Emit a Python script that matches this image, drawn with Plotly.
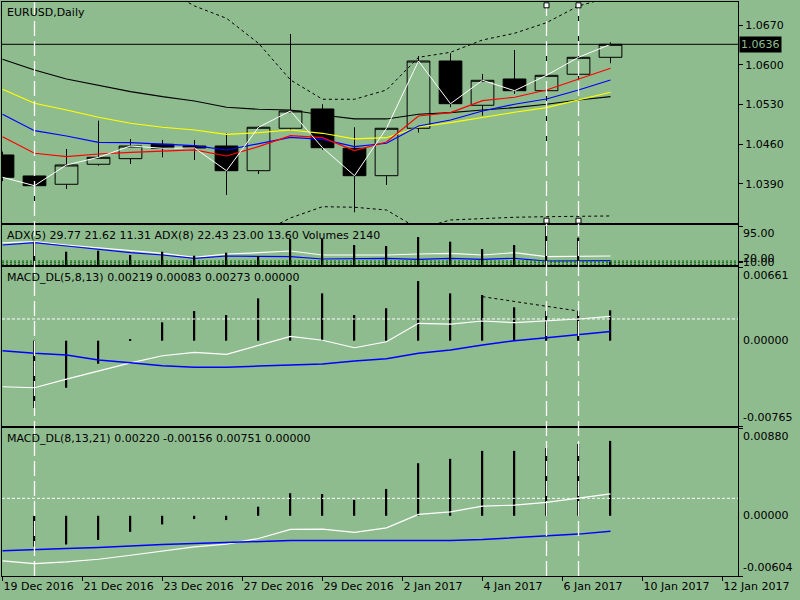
import plotly.graph_objects as go

BG = '#8FBC8F'
FONT = 'DejaVu Sans'

# bar index 0..19 (daily bars shown in the window)
bars = list(range(20))

opens = [1.04411, 1.04041, 1.03895, 1.04247, 1.04346, 1.04599, 1.04569, 1.04569, 1.04134, 1.04881,
         1.05221, 1.04529, 1.04046, 1.04881, 1.06066, 1.05286, 1.05749, 1.05543, 1.05832, 1.06131]
highs = [1.04470, 1.04177, 1.04516, 1.05015, 1.04693, 1.04675, 1.04675, 1.04793, 1.04920, 1.06542,
         1.05304, 1.04899, 1.04900, 1.06154, 1.06202, 1.05837, 1.06260, 1.06230, 1.07052, 1.06395]
lows = [1.03950, 1.03530, 1.03812, 1.04222, 1.04252, 1.04370, 1.04323, 1.03707, 1.04076, 1.04839,
        1.04499, 1.03402, 1.03883, 1.04804, 1.05251, 1.05103, 1.05485, 1.04529, 1.05744, 1.06026]
closes = [1.04018, 1.03870, 1.04235, 1.04370, 1.04569, 1.04529, 1.04534, 1.04134, 1.04899, 1.05186,
          1.04539, 1.04046, 1.04881, 1.06066, 1.05314, 1.05726, 1.05543, 1.05814, 1.06131, 1.06360]

ma_black = [1.06096, 1.05908, 1.05749, 1.05631, 1.05525, 1.05437, 1.05362, 1.05251, 1.05216, 1.05203,
            1.05115, 1.05045, 1.05045, 1.05128, 1.05156, 1.05203, 1.05244, 1.05304, 1.05379, 1.05437]
ma_yellow = [1.05568, 1.05321, 1.05203, 1.05075, 1.04969, 1.04899, 1.04851, 1.04775, 1.04803, 1.04851,
             1.04793, 1.04693, 1.04715, 1.04904, 1.04980, 1.05075, 1.05163, 1.05244, 1.05379, 1.05515]
ma_blue = [1.05128, 1.04839, 1.04745, 1.04634, 1.04627, 1.04599, 1.04575, 1.04499, 1.04605, 1.04722,
           1.04687, 1.04557, 1.04617, 1.04921, 1.05027, 1.05186, 1.05304, 1.05397, 1.05555, 1.05732]
ma_red = [1.04733, 1.04441, 1.04381, 1.04428, 1.04458, 1.04481, 1.04499, 1.04393, 1.04557, 1.04751,
          1.04715, 1.04487, 1.04640, 1.05098, 1.05156, 1.05367, 1.05427, 1.05555, 1.05749, 1.05938]
band_up = [None, None, None, None, None, 1.07352, 1.07035, 1.06818, 1.06378, 1.05732,
           1.05392, 1.05392, 1.05555, 1.06131, 1.06219, 1.06436, 1.06554, 1.06741, 1.07035, 1.07193]
band_dn = [None, None, None, None, None, None, None, None, 1.03020, 1.03302,
           1.03500, 1.03490, 1.03442, 1.03108, 1.03266, 1.03296, 1.03314, 1.03324, 1.03324, 1.03337]
price_ticks = [1.0670, 1.0600, 1.0530, 1.0460, 1.0390]

adx5 = [55.0, 57.7, 49.5, 42.9, 37.1, 28.9, 19.0, 27.2, 30.5, 34.7,
        24.8, 24.8, 24.8, 27.2, 28.9, 24.8, 30.5, 20.6, 20.6, 22.3]
adx8 = [49.5, 55.2, 47.0, 38.9, 30.5, 24.8, 16.6, 22.3, 20.6, 20.6,
        14.9, 16.6, 16.6, 14.1, 16.6, 14.1, 16.6, 9.9, 10.6, 10.6]
adx_levels = [9.9, 5.7, 1.7]
volumes = [None, 15060, 8590, 9240, 6470, 8590, 6000, 7930, 5820, 16810,
           16810, 12920, 12270, 18090, 15060, 10340, 12920, 25190, 17640, 2140]

macd1_main = [-0.00413, -0.00422, -0.00345, -0.00272, -0.00198, -0.00135, -0.00104, -0.00122, -0.00039, 0.00039,
              0.00004, -0.00063, -0.00009, 0.00156, 0.00148, 0.00177, 0.00162, 0.00177, 0.00195, 0.00219]
macd1_signal = [-0.00090, -0.00113, -0.00128, -0.00173, -0.00197, -0.00224, -0.00239, -0.00239, -0.00227, -0.00218,
                -0.00209, -0.00182, -0.00161, -0.00113, -0.00084, -0.00039, 0.00000, 0.00027, 0.00055, 0.00083]
macd1_hist = [None, -0.00604, -0.00422, -0.00206, 0.00015, 0.00165, 0.00266, 0.00230, 0.00380, 0.00500,
              0.00425, 0.00230, 0.00291, 0.00535, 0.00425, 0.00410, 0.00300, 0.00266, 0.00266, 0.00273]
macd1_level = 0.00195
div_bars = [15, 18]
div_vals = [0.00395, 0.00266]

macd2_main = [-0.00453, -0.00479, -0.00463, -0.00436, -0.00396, -0.00356, -0.00312, -0.00285, -0.00228, -0.00137,
              -0.00134, -0.00167, -0.00121, 0.00014, 0.00040, 0.00097, 0.00107, 0.00135, 0.00175, 0.00220]
macd2_signal = [-0.00352, -0.00338, -0.00328, -0.00318, -0.00302, -0.00288, -0.00278, -0.00268, -0.00258, -0.00248,
                -0.00248, -0.00248, -0.00248, -0.00248, -0.00248, -0.00238, -0.00221, -0.00204, -0.00184, -0.00156]
macd2_hist = [None, -0.00310, -0.00288, -0.00242, -0.00161, -0.00087, -0.00033, -0.00043, 0.00091, 0.00226,
              0.00218, 0.00158, 0.00269, 0.00527, 0.00571, 0.00651, 0.00651, 0.00678, 0.00719, 0.00751]
macd2_level = 0.00175

date_pos = [0, 2.5, 5, 7.5, 10, 12.5, 15, 17.5, 20, 22.5]
date_text = ['19 Dec 2016', '21 Dec 2016', '23 Dec 2016', '27 Dec 2016', '29 Dec 2016',
             '2 Jan 2017', '4 Jan 2017', '6 Jan 2017', '10 Jan 2017', '12 Jan 2017']
vline_bars = [1, 17, 18]

fig = go.Figure()

# main pane
fig.add_trace(go.Candlestick(
    x=bars, open=opens, high=highs, low=lows, close=closes,
    increasing=dict(line=dict(color='black', width=1), fillcolor=BG),
    decreasing=dict(line=dict(color='black', width=1), fillcolor='black'),
    whiskerwidth=0, xaxis='x', yaxis='y'))
for vals, col in [(ma_black, 'black'), (ma_yellow, '#FFFF00'), (ma_blue, '#0000FF'), (ma_red, '#FF0000')]:
    fig.add_trace(go.Scatter(x=bars, y=vals, mode='lines', line=dict(color=col, width=1.2),
                             xaxis='x', yaxis='y'))
for vals in [band_up, band_dn]:
    fig.add_trace(go.Scatter(x=bars, y=vals, mode='lines', line=dict(color='black', width=1, dash='3px,3px'),
                             xaxis='x', yaxis='y'))
fig.add_trace(go.Scatter(x=bars, y=closes, mode='lines', line=dict(color='white', width=1),
                         xaxis='x', yaxis='y'))

# ADX + volumes pane
fig.add_trace(go.Bar(x=bars, y=volumes, width=0.045, marker=dict(color='black', line=dict(width=0)),
                     xaxis='x2', yaxis='y5'))
fig.add_trace(go.Scatter(x=bars, y=adx5, mode='lines', line=dict(color='white', width=1.2),
                         xaxis='x2', yaxis='y2'))
fig.add_trace(go.Scatter(x=bars, y=adx8, mode='lines', line=dict(color='#0000FF', width=1.2),
                         xaxis='x2', yaxis='y2'))

# MACD panes
for hist, main, sig, xa, ya in [(macd1_hist, macd1_main, macd1_signal, 'x3', 'y3'),
                                (macd2_hist, macd2_main, macd2_signal, 'x4', 'y4')]:
    fig.add_trace(go.Bar(x=bars, y=hist, width=0.045, marker=dict(color='black', line=dict(width=0)),
                         xaxis=xa, yaxis=ya))
    fig.add_trace(go.Scatter(x=bars, y=main, mode='lines', line=dict(color='white', width=1.2),
                             xaxis=xa, yaxis=ya))
    fig.add_trace(go.Scatter(x=bars, y=sig, mode='lines', line=dict(color='#0000FF', width=1.5),
                             xaxis=xa, yaxis=ya))
fig.add_trace(go.Scatter(x=div_bars, y=div_vals, mode='lines', line=dict(color='black', width=1, dash='3px,3px'),
                         xaxis='x3', yaxis='y3'))

shapes = []
# last price line
shapes.append(dict(type='line', xref='x domain', x0=0, x1=1, yref='y', y0=closes[-1], y1=closes[-1],
                   line=dict(color='black', width=1)))
for lv in adx_levels:
    shapes.append(dict(type='line', xref='x2 domain', x0=0, x1=1, yref='y2', y0=lv, y1=lv,
                       line=dict(color='#006400', width=1, dash='2px,2px')))
for lv, ya in [(macd1_level, 'y3'), (macd2_level, 'y4')]:
    shapes.append(dict(type='line', xref='x domain', x0=0, x1=1, yref=ya, y0=lv, y1=lv,
                       line=dict(color='white', width=1, dash='3px,2px')))
for b in vline_bars:
    shapes.append(dict(type='line', xref='x', x0=b, x1=b, yref='paper', y0=0, y1=1,
                       line=dict(color='white', width=1.3, dash='15px,5px')))
for b in vline_bars[1:]:
    for yy in [0.985, 0.0104]:
        shapes.append(dict(type='rect', xref='x', xsizemode='pixel', xanchor=b, x0=-2.5, x1=2.5,
                           yref='y domain', ysizemode='pixel', yanchor=yy, y0=-2.5, y1=2.5,
                           fillcolor='white', line=dict(color='black', width=1)))

ann = []
titles = [
    ('EURUSD,Daily', 'y domain'),
    ('ADX(5) 29.77 21.62 11.31 ADX(8) 22.43 23.00 13.60 Volumes 2140', 'y2 domain'),
    ('MACD_DL(5,8,13) 0.00219 0.00083 0.00273 0.00000', 'y3 domain'),
    ('MACD_DL(8,13,21) 0.00220 -0.00156 0.00751 0.00000', 'y4 domain'),
]
for txt, yr in titles:
    ann.append(dict(text=txt, xref='paper', x=0, xanchor='left', xshift=3,
                    yref=yr, y=1, yanchor='top', yshift=-2, showarrow=False))

right_labels = [
    ('95.00', 'y2 domain', 1, 'top'),
    ('20.00', 'y2 domain', 0.175, 'middle'),
    ('10.00', 'y2 domain', 0.075, 'middle'),
    ('0.00661', 'y3 domain', 1, 'top'),
    ('0.00000', 'y3', 0, 'middle'),
    ('-0.00765', 'y3 domain', 0, 'bottom'),
    ('0.00880', 'y4 domain', 1, 'top'),
    ('0.00000', 'y4', 0, 'middle'),
    ('-0.00604', 'y4 domain', 0, 'bottom'),
]
for txt, yr, yv, anc in right_labels:
    ann.append(dict(text=txt, xref='paper', x=1, xanchor='left', xshift=3,
                    yref=yr, y=yv, yanchor=anc, showarrow=False))
ann.append(dict(text='%.4f' % closes[-1], xref='paper', x=1, xanchor='left', xshift=1,
                yref='y', y=closes[-1], yanchor='middle', showarrow=False,
                bgcolor='black', font=dict(color=BG), borderpad=1))

xr = [-0.0156, 22.984]
ax_common = dict(showline=True, mirror=True, linecolor='black', linewidth=1,
                 showgrid=False, zeroline=False)

fig.update_layout(
    width=800, height=600,
    margin=dict(l=2, r=62, t=2, b=24),
    paper_bgcolor=BG, plot_bgcolor=BG,
    font=dict(family=FONT, size=11, color='black'),
    showlegend=False,
    barmode='overlay',
    boxgap=0.29, boxgroupgap=0,
    hovermode=False,
    xaxis=dict(range=xr, anchor='y', showticklabels=False, ticks='', rangeslider=dict(visible=False), **ax_common),
    xaxis2=dict(matches='x', anchor='y2', showticklabels=False, ticks='', **ax_common),
    xaxis3=dict(matches='x', anchor='y3', showticklabels=False, ticks='', **ax_common),
    xaxis4=dict(matches='x', anchor='y4', tickvals=date_pos, ticktext=date_text, ticks='outside',
                ticklen=4, tickcolor='black', ticklabelposition='outside right', **ax_common),
    yaxis=dict(domain=[0.6150, 1], range=[1.03213, 1.07105], side='right', tickvals=price_ticks,
               tickformat='.4f', ticks='outside', ticklen=4, tickcolor='black', **ax_common),
    yaxis2=dict(domain=[0.5418, 0.6115], range=[0, 99], side='right', tickvals=[95] + adx_levels[:2],
                showticklabels=False, ticks='outside', ticklen=4, tickcolor='black', **ax_common),
    yaxis3=dict(domain=[0.2613, 0.5383], range=[-0.00765, 0.00661], side='right', tickvals=[0.00661, -0.00765],
                showticklabels=False, ticks='outside', ticklen=4, tickcolor='black', **ax_common),
    yaxis4=dict(domain=[0, 0.2578], range=[-0.00604, 0.00880], side='right', tickvals=[0.00880, -0.00604],
                showticklabels=False, ticks='outside', ticklen=4, tickcolor='black', **ax_common),
    yaxis5=dict(overlaying='y2', anchor='x2', range=[0, 25840], visible=False),
    shapes=shapes,
    annotations=ann,
)

# page body has a default 8px margin; drop it so the figure sits at the window corner
fig.write_html("out.html", config={'displayModeBar': False},
               post_script="document.body.style.margin='0px';")
